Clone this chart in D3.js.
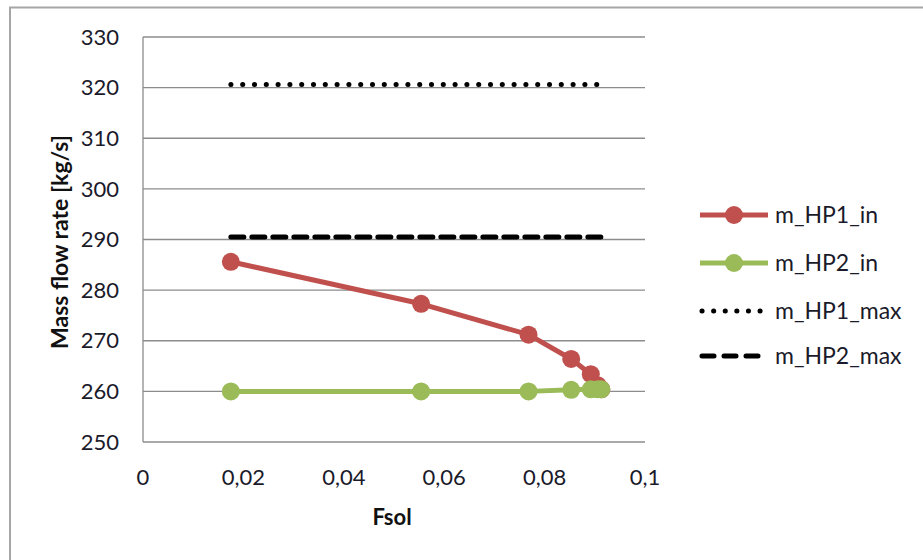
<!DOCTYPE html>
<html>
<head>
<meta charset="utf-8">
<script src="https://cdn.jsdelivr.net/npm/d3@7"></script>
<style>
  html, body { margin: 0; padding: 0; background: #fff; }
  svg { display: block; font-family: Lato, "Open Sans", sans-serif; }
</style>
</head>
<body>
<svg id="chart" width="923" height="560"></svg>
<script>
// Solar fraction (x) and inlet mass flows of the two HP units
const fsol = [0.0175, 0.0554, 0.0768, 0.0853, 0.0892, 0.0906, 0.0913];
const mHP1in = [285.6, 277.3, 271.2, 266.4, 263.4, 261.2, 260.4];
const mHP2in = [260.0, 260.0, 260.0, 260.3, 260.4, 260.4, 260.4];
const mHP1max = [320.6, 320.6, 320.6, 320.6, 320.6, 320.6, 320.6];
const mHP2max = [290.5, 290.5, 290.5, 290.5, 290.5, 290.5, 290.5];
const xTicks = [0, 0.02, 0.04, 0.06, 0.08, 0.1];
const yTicks = [250, 260, 270, 280, 290, 300, 310, 320, 330];
const seriesNames = ["m_HP1_in", "m_HP2_in", "m_HP1_max", "m_HP2_max"];

const svg = d3.select("#chart");
const textCol = "#1a1a2a";

// chart frame
svg.append("path")
  .attr("d", "M10,570 L10,7.5 L930,7.5")
  .attr("fill", "none").attr("stroke", "#a6a6a6").attr("stroke-width", 2);

const x = d3.scaleLinear().domain([0, 0.1]).range([143, 645]);
const y = d3.scaleLinear().domain([250, 330]).range([442, 37]);

// horizontal gridlines
svg.append("g").selectAll("line").data(yTicks).join("line")
  .attr("x1", x(0)).attr("x2", x(0.1))
  .attr("y1", d => y(d)).attr("y2", d => y(d))
  .attr("stroke", "#8c8c8c").attr("stroke-width", 1.3);

// vertical axis line
svg.append("line")
  .attr("x1", x(0)).attr("x2", x(0)).attr("y1", y(330)).attr("y2", y(250))
  .attr("stroke", "#8c8c8c").attr("stroke-width", 1.3);

const fmt = d => d === 0 ? "0" : String(d).replace(".", ",");

// y tick labels
svg.append("g").selectAll("text").data(yTicks).join("text")
  .attr("x", 119).attr("y", d => y(d)).attr("dy", "0.35em")
  .attr("text-anchor", "end").attr("font-size", 22).attr("fill", textCol)
  .text(d => d);

// x tick labels
svg.append("g").selectAll("text").data(xTicks).join("text")
  .attr("x", d => x(d)).attr("y", 477).attr("dy", "0.35em")
  .attr("text-anchor", "middle").attr("font-size", 22).attr("fill", textCol)
  .text(fmt);

// axis titles
svg.append("text")
  .attr("x", x(0.05) - 2).attr("y", 517).attr("dy", "0.35em")
  .attr("text-anchor", "middle").attr("font-size", 22).attr("font-weight", "bold")
  .attr("fill", "#111").text("Fsol");

svg.append("text")
  .attr("transform", "translate(60,242) rotate(-90)")
  .attr("dy", "0.35em")
  .attr("text-anchor", "middle").attr("font-size", 23).attr("font-weight", "bold")
  .attr("fill", "#111").text("Mass flow rate [kg/s]");

const line = d3.line().x(d => x(d[0])).y(d => y(d[1]));
const pts = vals => fsol.map((f, i) => [f, vals[i]]);

// limit lines
svg.append("path").datum(pts(mHP1max)).attr("d", line)
  .attr("fill", "none").attr("stroke", "#000").attr("stroke-width", 5)
  .attr("stroke-linecap", "round").attr("stroke-dasharray", "0.1 11.7");

svg.append("path").datum(pts(mHP2max)).attr("d", line)
  .attr("fill", "none").attr("stroke", "#000").attr("stroke-width", 5)
  .attr("stroke-linecap", "round").attr("stroke-dasharray", "13 8");

// measured series with markers
const colors = { hp1: "#c0504d", hp2: "#9bbb59" };
[[mHP1in, colors.hp1], [mHP2in, colors.hp2]].forEach(([vals, c]) => {
  svg.append("path").datum(pts(vals)).attr("d", line)
    .attr("fill", "none").attr("stroke", c).attr("stroke-width", 5)
    .attr("stroke-linejoin", "round");
  svg.append("g").selectAll("circle").data(pts(vals)).join("circle")
    .attr("cx", d => x(d[0])).attr("cy", d => y(d[1])).attr("r", 9)
    .attr("fill", c);
});

// legend
const legY = [215, 263, 311, 356];
const leg = svg.append("g");
seriesNames.forEach((name, i) => {
  const g = leg.append("g");
  const ly = legY[i];
  if (i < 2) {
    const c = i === 0 ? colors.hp1 : colors.hp2;
    g.append("line").attr("x1", 700).attr("x2", 768).attr("y1", ly).attr("y2", ly)
      .attr("stroke", c).attr("stroke-width", 5);
    g.append("circle").attr("cx", 734).attr("cy", ly).attr("r", 9).attr("fill", c);
  } else if (i === 2) {
    g.append("line").attr("x1", 702).attr("x2", 766).attr("y1", ly).attr("y2", ly)
      .attr("stroke", "#000").attr("stroke-width", 5).attr("stroke-linecap", "round")
      .attr("stroke-dasharray", "0.1 11.5");
  } else {
    g.append("line").attr("x1", 702).attr("x2", 766).attr("y1", ly).attr("y2", ly)
      .attr("stroke", "#000").attr("stroke-width", 5).attr("stroke-linecap", "round")
      .attr("stroke-dasharray", "12 10");
  }
  g.append("text").attr("x", 775).attr("y", ly).attr("dy", "0.35em")
    .attr("font-size", 23).attr("fill", textCol).text(name);
});
</script>
</body>
</html>
